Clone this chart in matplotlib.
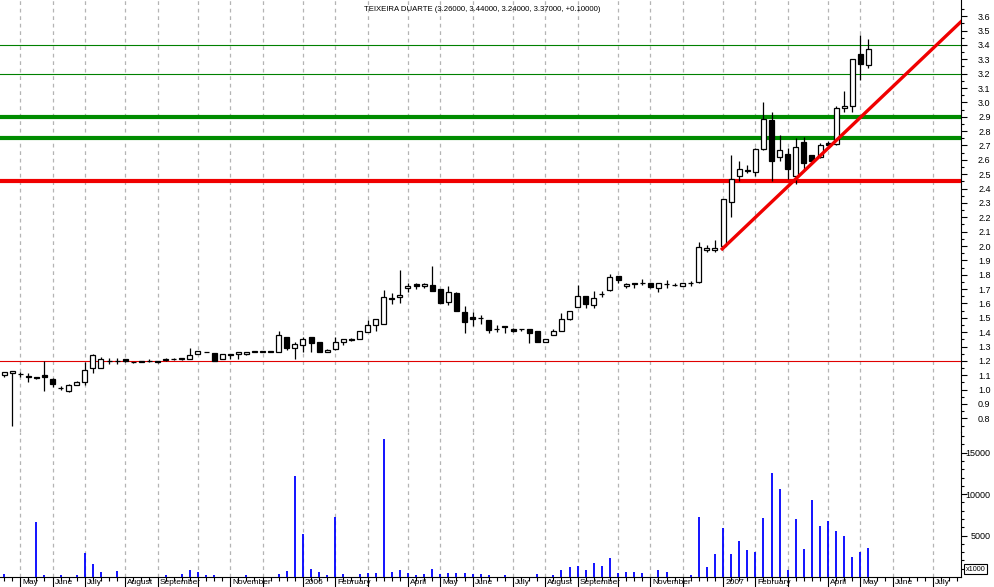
import matplotlib
matplotlib.use('Agg')
import matplotlib.pyplot as plt
import matplotlib.transforms as mtransforms
import numpy as np
import pandas as pd

plt.rcParams['font.family'] = ['Liberation Sans', 'DejaVu Sans']

title = "TEIXEIRA DUARTE (3.26000, 3.44000, 3.24000, 3.37000, +0.10000)"

# weekly candles, first week ending 2005-04-22
start_week = '2005-04-22'
opens = [1.10, 1.117, 1.11, 1.095, 1.085, 1.10, 1.075, 1.01, 0.99, 1.03,
         1.055, 1.15, 1.15, 1.20, 1.20, 1.21, 1.19, 1.195, 1.20, 1.20,
         1.205, 1.21, 1.215, 1.215, 1.245, 1.26, 1.255, 1.215, 1.25, 1.245,
         1.245, 1.265, 1.265, 1.265, 1.265, 1.365, 1.29, 1.31, 1.365, 1.335,
         1.265, 1.28, 1.335, 1.355, 1.355, 1.40, 1.45, 1.455, 1.64, 1.645,
         1.705, 1.735, 1.72, 1.73, 1.70, 1.61, 1.675, 1.54, 1.505, 1.50,
         1.485, 1.42, 1.445, 1.42, 1.425, 1.42, 1.41, 1.33, 1.38, 1.41,
         1.495, 1.575, 1.655, 1.59, 1.665, 1.695, 1.79, 1.72, 1.74, 1.745,
         1.745, 1.705, 1.735, 1.73, 1.725, 1.745, 1.75, 1.975, 1.975, 2.00,
         2.305, 2.485, 2.525, 2.515, 2.675, 2.88, 2.62, 2.64, 2.49, 2.725,
         2.635, 2.62, 2.715, 2.71, 2.96, 2.975, 3.335, 3.26]
highs = [1.12, 1.13, 1.12, 1.115, 1.09, 1.20, 1.08, 1.025, 1.04, 1.06,
         1.195, 1.245, 1.23, 1.22, 1.22, 1.21, 1.195, 1.20, 1.215, 1.20,
         1.22, 1.22, 1.22, 1.29, 1.27, 1.265, 1.255, 1.245, 1.25, 1.26,
         1.265, 1.27, 1.27, 1.27, 1.41, 1.365, 1.33, 1.365, 1.365, 1.335,
         1.28, 1.365, 1.35, 1.36, 1.405, 1.485, 1.49, 1.695, 1.67, 1.835,
         1.74, 1.745, 1.74, 1.86, 1.70, 1.72, 1.68, 1.58, 1.54, 1.52,
         1.485, 1.45, 1.445, 1.43, 1.425, 1.42, 1.41, 1.355, 1.42, 1.535,
         1.55, 1.73, 1.655, 1.69, 1.69, 1.805, 1.79, 1.745, 1.745, 1.77,
         1.745, 1.74, 1.76, 1.74, 1.745, 1.755, 2.03, 2.005, 2.04, 2.325,
         2.635, 2.59, 2.565, 2.68, 3.005, 2.93, 2.77, 2.68, 2.75, 2.76,
         2.635, 2.72, 2.73, 2.975, 3.08, 3.30, 3.47, 3.44]
lows = [1.09, 0.75, 1.09, 1.05, 1.075, 0.99, 1.02, 0.995, 0.985, 1.03,
        1.03, 1.115, 1.15, 1.18, 1.18, 1.19, 1.185, 1.19, 1.195, 1.185,
        1.20, 1.205, 1.205, 1.21, 1.245, 1.26, 1.20, 1.215, 1.21, 1.215,
        1.24, 1.26, 1.26, 1.26, 1.26, 1.275, 1.21, 1.26, 1.265, 1.26,
        1.26, 1.275, 1.31, 1.34, 1.355, 1.40, 1.41, 1.455, 1.595, 1.60,
        1.68, 1.70, 1.71, 1.69, 1.605, 1.59, 1.55, 1.395, 1.44, 1.46,
        1.395, 1.40, 1.395, 1.40, 1.41, 1.325, 1.33, 1.33, 1.38, 1.41,
        1.485, 1.575, 1.565, 1.57, 1.645, 1.69, 1.745, 1.71, 1.71, 1.73,
        1.71, 1.68, 1.71, 1.72, 1.72, 1.72, 1.745, 1.96, 1.96, 1.995,
        2.20, 2.45, 2.51, 2.485, 2.67, 2.45, 2.59, 2.47, 2.43, 2.53,
        2.595, 2.615, 2.70, 2.70, 2.93, 2.93, 3.155, 3.24]
closes = [1.12, 1.13, 1.11, 1.085, 1.08, 1.085, 1.04, 1.01, 1.03, 1.055,
          1.14, 1.24, 1.215, 1.20, 1.20, 1.20, 1.19, 1.195, 1.20, 1.19,
          1.215, 1.215, 1.215, 1.24, 1.27, 1.26, 1.20, 1.245, 1.24, 1.26,
          1.265, 1.265, 1.265, 1.265, 1.38, 1.29, 1.315, 1.35, 1.325, 1.265,
          1.275, 1.335, 1.35, 1.345, 1.405, 1.45, 1.49, 1.645, 1.63, 1.66,
          1.72, 1.725, 1.735, 1.69, 1.605, 1.68, 1.55, 1.47, 1.49, 1.50,
          1.415, 1.42, 1.435, 1.41, 1.42, 1.395, 1.33, 1.355, 1.405, 1.49,
          1.55, 1.655, 1.595, 1.64, 1.665, 1.785, 1.765, 1.735, 1.735, 1.74,
          1.715, 1.74, 1.735, 1.73, 1.74, 1.74, 1.99, 1.985, 1.985, 2.325,
          2.47, 2.535, 2.525, 2.675, 2.885, 2.595, 2.67, 2.535, 2.69, 2.575,
          2.595, 2.70, 2.70, 2.96, 2.975, 3.30, 3.27, 3.37]
volumes = [400, 0, 0, 0, 6600, 250, 0, 250, 0, 250,
           2900, 1600, 600, 0, 700, 0, 0, 0, 0, 0,
           250, 0, 400, 850, 600, 250, 250, 0, 0, 0,
           250, 0, 0, 0, 400, 700, 12200, 5200, 1000, 600,
           250, 7200, 400, 0, 400, 500, 500, 16600, 600, 850,
           500, 250, 400, 1000, 400, 500, 500, 500, 400, 400,
           250, 0, 250, 0, 0, 0, 400, 0, 250, 850,
           1200, 1350, 850, 1700, 1350, 2300, 500, 600, 600, 500,
           0, 850, 600, 0, 0, 250, 7200, 1200, 2800, 5900,
           2800, 4400, 3300, 3000, 7100, 12600, 10600, 850, 7000, 3400,
           9300, 6200, 6800, 5600, 4900, 2400, 3000, 3500]

# support / resistance lines and trend line drawn on the chart
green_thin = [3.4, 3.2]
green_thick = [2.9, 2.75]
red_thick = [2.45]
red_thin = [1.2]
trend_x = [88.9, 118.6]
trend_y = [1.98, 3.57]

month_labels = ['May', 'June', 'July', 'August', 'September', '', 'November', '',
                '2006', 'February', '', 'April', 'May', 'June', 'July', 'August',
                'September', '', 'November', '', '2007', 'February', '', 'April',
                'May', 'June', 'July']

n = len(closes)
x = np.arange(n)
weeks = pd.date_range(start_week, periods=120, freq='W-FRI')
month_idx = [i for i in range(1, len(weeks)) if weeks[i].month != weeks[i - 1].month]
month_idx = [i for i in month_idx if i < 119][:len(month_labels)]

fig = plt.figure(figsize=(9.94, 5.87), dpi=100)
ax = fig.add_axes([0, 0.26405, 0.9668, 0.73595])
axv = fig.add_axes([0, 0.01704, 0.9668, 0.24701], sharex=ax)

xlim = (-0.5, 118.45)
ax.set_xlim(xlim)
ax.set_ylim(0.705, 3.713)
axv.set_ylim(0, 17500)

for a in (ax, axv):
    for m in month_idx:
        a.axvline(m, color='#b4b4b4', lw=0.9, ls=(0, (3, 3)), zorder=0)
    a.spines['left'].set_visible(False)
    a.spines['top'].set_visible(False)
    a.spines['right'].set_linewidth(0.8)
    a.yaxis.tick_right()
    a.set_facecolor('none')
ax.spines['bottom'].set_visible(False)
axv.spines['bottom'].set_linewidth(0.8)

# horizontal levels
for lv in green_thin:
    ax.axhline(lv, color='#008000', lw=0.8, zorder=1)
for lv in green_thick:
    ax.axhline(lv, color='#008c00', lw=3.0, zorder=1)
for lv in red_thick:
    ax.axhline(lv, color='#f00000', lw=3.0, zorder=1)
for lv in red_thin:
    ax.axhline(lv, color='#e00000', lw=0.8, zorder=1)

# candles
o = np.array(opens); c = np.array(closes)
up = c >= o
ax.vlines(x, lows, highs, color='black', lw=0.9, zorder=3)
body_h = np.maximum(np.abs(c - o), 0.002)
ax.bar(x[up], body_h[up], bottom=np.minimum(o, c)[up], width=0.62,
       color='white', edgecolor='black', lw=0.9, zorder=4)
ax.bar(x[~up], body_h[~up], bottom=np.minimum(o, c)[~up], width=0.62,
       color='black', edgecolor='black', lw=0.9, zorder=4)

ax.plot(trend_x, trend_y, color='#f00000', lw=2.4, zorder=5, clip_on=True)

ax.text(0.502, 0.986, title, transform=ax.transAxes, ha='center', va='top',
        fontsize=5.6)

# price axis ticks, labels right-aligned near the figure edge
ax.set_yticks(np.round(np.arange(0.8, 3.61, 0.1), 1))
ax.set_yticks(np.round(np.arange(0.75, 3.7, 0.05), 2), minor=True)
ax.yaxis.set_major_formatter(matplotlib.ticker.FormatStrFormatter('%.1f'))
ax.tick_params(axis='y', which='major', length=4.3, width=0.8, labelsize=6.5, pad=17)
ax.tick_params(axis='y', which='minor', length=2.2, width=0.8)
ax.tick_params(axis='x', which='both', bottom=False, labelbottom=False)

# volume
vx = [i for i in range(n) if volumes[i] > 0]
axv.vlines(vx, 0, [volumes[i] for i in vx], color='#0000ff', lw=1.3, zorder=3)
axv.set_yticks([5000, 10000, 15000])
axv.set_yticks(np.arange(1000, 17001, 1000), minor=True)
axv.tick_params(axis='y', which='major', length=4.3, width=0.8, labelsize=6.5, pad=17)
axv.tick_params(axis='y', which='minor', length=2.2, width=0.8)
for a in (ax, axv):
    for lab in a.get_yticklabels():
        lab.set_horizontalalignment('right')
axv.text(1.005, 0.03, 'x1000', transform=axv.transAxes, fontsize=5.2,
         ha='left', va='bottom',
         bbox=dict(boxstyle='square,pad=0.2', fc='white', ec='black', lw=0.8))

axv.set_xticks(month_idx)
axv.set_xticks(np.arange(0, 119), minor=True)
axv.tick_params(axis='x', which='major', length=10, width=0.8, labelbottom=False)
axv.tick_params(axis='x', which='minor', length=3, width=0.8)
trans = mtransforms.blended_transform_factory(axv.transData, axv.transAxes)
for m, lab in zip(month_idx, month_labels):
    if lab:
        axv.annotate(lab, (m, 0), xycoords=trans, xytext=(1.5, -1.5),
                     textcoords='offset points', ha='left', va='top', fontsize=6)

ax.set_xlim(xlim)
fig.savefig('out.png', dpi=100)
